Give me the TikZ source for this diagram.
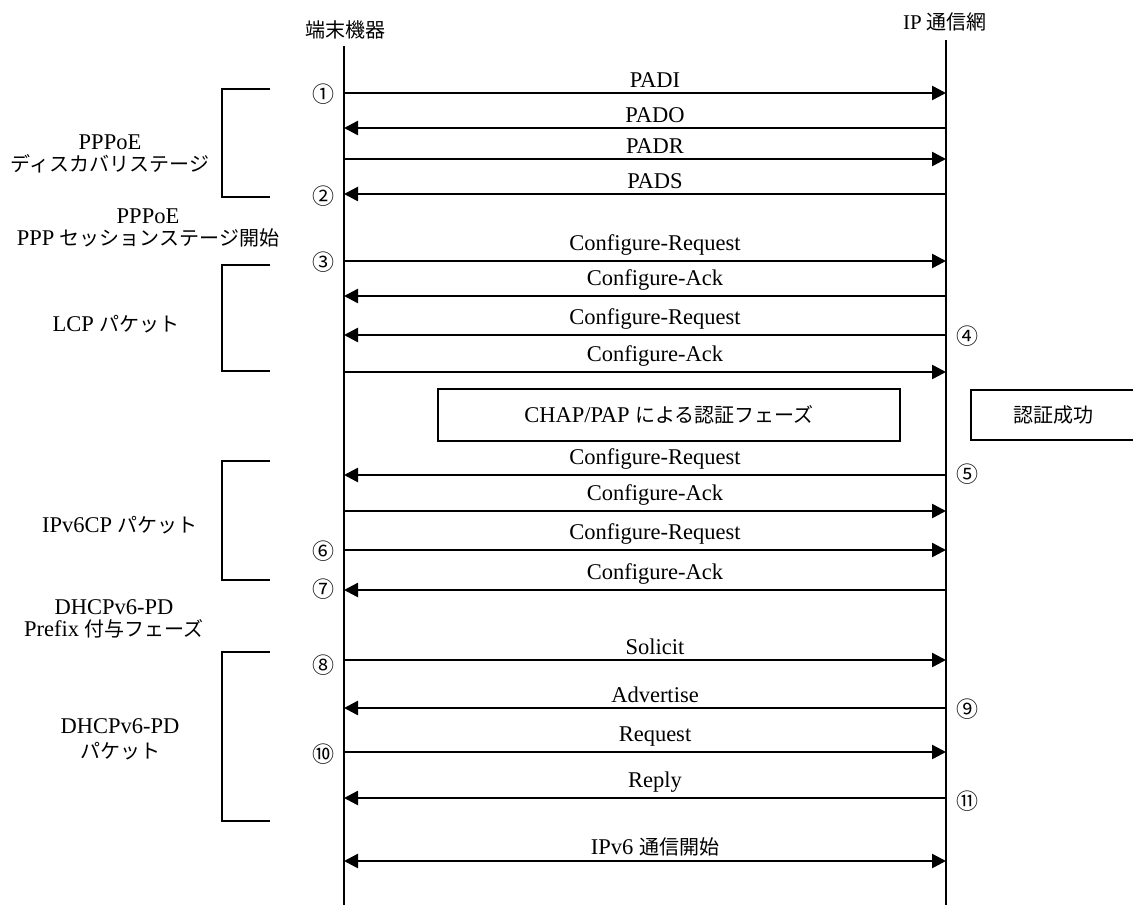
\documentclass[tikz,border=0pt]{standalone}
\usepackage{fontspec}
\setmainfont{Liberation Serif}
\newfontfamily\jp{Noto Sans CJK JP}
\newcommand\J[1]{{\jp\fontsize{20}{22}\selectfont #1}}
\usetikzlibrary{arrows.meta}
\begin{document}
\begin{tikzpicture}[x=1pt,y=-1pt,
  life/.style={line width=2pt},
  tip/.tip={Triangle[length=14pt,width=14pt]},
  msg/.style={line width=2.5pt,-tip},
  msgb/.style={line width=2.5pt,tip-tip},
  lbl/.style={above=4pt,inner sep=0pt,xshift=10pt,font=\fontsize{22.5}{24}\selectfont},
  num/.style={inner sep=0pt,font=\jp\fontsize{22}{24}\selectfont},
  side/.style={align=center,inner sep=0pt,font=\fontsize{22.5}{22}\selectfont},
  brk/.style={line width=2pt},
  boxline/.style={line width=1.5pt},
  hdr/.style={inner sep=0pt,font=\fontsize{21}{22}\selectfont}]
\useasboundingbox (0,0) rectangle (1133,905);

% headers
\node[hdr] (hL) at (345,30) {\J{端末機器}};
\node[hdr] (hR) at (945,22) {IP \J{通信網}};

% lifelines
\coordinate (Ltop) at (344,46);
\coordinate (Lbot) at (344,905);
\coordinate (Rtop) at (946,40);
\coordinate (Rbot) at (946,905);
\draw[life] (Ltop) -- (Lbot);
\draw[life] (Rtop) -- (Rbot);

% message end points
\foreach \n/\y in {1/93,2/128,3/159,4/194,5/261,6/296,7/335,8/372,9/475,10/511,11/550,12/590,13/660,14/708,15/752,16/798,17/861}{
  \coordinate (l\n) at (344,\y);
  \coordinate (r\n) at (946,\y);
}

% messages
\draw[msg] (l1) -- node[lbl]{PADI} (r1);
\draw[msg] (r2) -- node[lbl]{PADO} (l2);
\draw[msg] (l3) -- node[lbl]{PADR} (r3);
\draw[msg] (r4) -- node[lbl]{PADS} (l4);
\draw[msg] (l5) -- node[lbl]{Configure-Request} (r5);
\draw[msg] (r6) -- node[lbl]{Configure-Ack} (l6);
\draw[msg] (r7) -- node[lbl]{Configure-Request} (l7);
\draw[msg] (l8) -- node[lbl]{Configure-Ack} (r8);
\draw[msg] (r9) -- node[lbl]{Configure-Request} (l9);
\draw[msg] (l10) -- node[lbl]{Configure-Ack} (r10);
\draw[msg] (l11) -- node[lbl]{Configure-Request} (r11);
\draw[msg] (r12) -- node[lbl]{Configure-Ack} (l12);
\draw[msg] (l13) -- node[lbl]{Solicit} (r13);
\draw[msg] (r14) -- node[lbl]{Advertise} (l14);
\draw[msg] (l15) -- node[lbl]{Request} (r15);
\draw[msg] (r16) -- node[lbl]{Reply} (l16);
\draw[msgb] (l17) -- node[lbl]{IPv6 \J{通信開始}} (r17);

% step numbers
\node[num] (n1) at (323,94) {①};
\node[num] (n2) at (323,196) {②};
\node[num] (n3) at (323,262) {③};
\node[num] (n4) at (967,336) {④};
\node[num] (n5) at (967,474) {⑤};
\node[num] (n6) at (323,551) {⑥};
\node[num] (n7) at (323,589) {⑦};
\node[num] (n8) at (323,665) {⑧};
\node[num] (n9) at (967,709) {⑨};
\node[num] (n10) at (323,754) {⑩};
\node[num] (n11) at (967,801) {⑪};

% phase boxes
\node[draw,boxline,minimum width=462pt,minimum height=52pt,inner sep=0pt,
      font=\fontsize{22.5}{24}\selectfont] (chap) at (669,415) {CHAP/PAP \J{による認証フェーズ}};
\node[inner sep=0pt] (ok) at (1053,415) {\J{認証成功}};
\coordinate (okTR) at (1140,390);
\coordinate (okTL) at (971,390);
\coordinate (okBL) at (971,440);
\coordinate (okBR) at (1140,440);
\draw[boxline] (okTR) -- (okTL) -- (okBL) -- (okBR);

% brackets
\foreach \n/\a/\b in {1/89/197,2/265/371,3/461/580,4/652/821}{
  \coordinate (bt\n) at (270,\a);
  \coordinate (bb\n) at (270,\b);
  \draw[brk] (bt\n) -| (222,\b) -- (bb\n);
}

% side labels
\node[side] (s1) at (110,154) {PPPoE\\\J{ディスカバリステージ}};
\node[side] (s2) at (148,228) {PPPoE\\PPP \J{セッションステージ開始}};
\node[side] (s3) at (116,324) {LCP \J{パケット}};
\node[side] (s4) at (120,525) {IPv6CP \J{パケット}};
\node[side] (s5) at (114,619) {DHCPv6-PD\\Prefix \J{付与フェーズ}};
\node[side,font=\fontsize{22.5}{25}\selectfont] (s6) at (120,739) {DHCPv6-PD\\\J{パケット}};
\end{tikzpicture}
\end{document}
